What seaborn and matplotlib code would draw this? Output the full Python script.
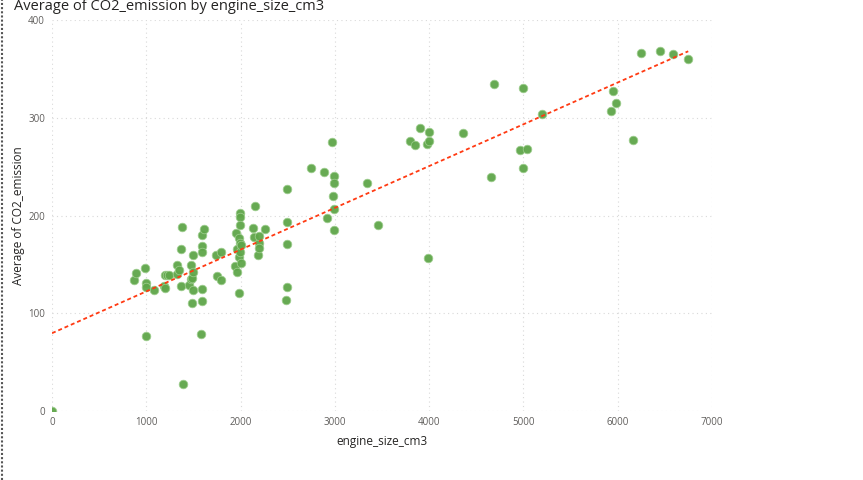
import matplotlib
matplotlib.use("Agg")
import matplotlib.pyplot as plt
import seaborn as sns
import pandas as pd
from matplotlib.lines import Line2D

# engine size (cm3) and average CO2 emission
engine_size = [0, 870, 894, 987, 997, 997, 993, 1078, 1191, 1195, 1220, 1244, 1195,
               1326, 1329, 1347, 1365, 1368, 1382, 1393, 1453, 1474, 1470, 1488, 1495,
               1495, 1495, 1485, 1577, 1587, 1594, 1587, 1591, 1612, 1591, 1739, 1753,
               1796, 1796, 1944, 1951, 1958, 1965, 1980, 1983, 1986, 1994, 1994, 1994,
               1994, 1994, 2001, 2007, 2135, 2142, 2153, 2188, 2192, 2192, 2199, 2259,
               2485, 2489, 2495, 2495, 2495, 2750, 2884, 2920, 2972, 2983, 2990, 2990,
               2994, 2994, 3337, 3454, 3796, 3849, 3899, 3977, 3987, 3994, 3994, 4362,
               4659, 4687, 4963, 4998, 4998, 5034, 5200, 5931, 5946, 5977, 6161, 6249,
               6448, 6589, 6748]
co2_emission = [0, 134, 141, 146, 131, 127, 77, 124, 128, 139, 139, 139, 126,
                149, 140, 144, 166, 128, 188, 28, 129, 149, 135, 136, 142,
                160, 124, 110, 79, 113, 125, 169, 180, 186, 163, 160, 138,
                163, 134, 148, 182, 166, 142, 177, 121, 158, 203, 198, 190,
                172, 163, 151, 170, 187, 178, 210, 160, 172, 167, 179, 186,
                114, 127, 171, 193, 227, 249, 245, 197, 275, 220, 240, 233,
                207, 185, 233, 190, 276, 272, 290, 273, 157, 285, 276, 284,
                239, 335, 267, 330, 249, 268, 304, 307, 327, 315, 277, 366,
                368, 365, 360]

x_ticks = [0, 1000, 2000, 3000, 4000, 5000, 6000, 7000]
y_ticks = [0, 100, 200, 300, 400]

df = pd.DataFrame({"engine_size_cm3": engine_size, "CO2_emission": co2_emission})

sns.set_style("white")
plt.rcParams["font.family"] = ["Open Sans", "DejaVu Sans"]

fig = plt.figure(figsize=(8.63, 4.8), dpi=100)
ax = fig.add_axes([52 / 863, 1 - 411 / 480, 660 / 863, 391 / 480])

sns.scatterplot(data=df, x="engine_size_cm3", y="CO2_emission", ax=ax,
                color="#5FA64A", s=38, linewidth=0.6, edgecolor="#9ccc8c", alpha=0.95, zorder=3)
sns.regplot(data=df, x="engine_size_cm3", y="CO2_emission", ax=ax, scatter=False, ci=None,
            line_kws=dict(color="#FF3A12", linewidth=1.3, linestyle=(0, (2.2, 1.6)), zorder=4))

ax.set_xlim(0, 7000)
ax.set_ylim(0, 400)
ax.set_xticks(x_ticks)
ax.set_yticks(y_ticks)
ax.grid(True, color="#d9d9d9", linestyle=(0, (1, 3)), linewidth=0.8)
for s in ax.spines.values():
    s.set_visible(False)
ax.tick_params(axis="both", length=0, labelsize=7, colors="#605E5C")
ax.tick_params(axis="x", pad=4)
ax.tick_params(axis="y", pad=5)
ax.set_xlabel("engine_size_cm3", fontsize=8.5, color="#252423", labelpad=5)
ax.set_ylabel("Average of CO2_emission", fontsize=8.5, color="#252423")
ax.yaxis.set_label_coords(-27 / 660, 0.5)

fig.text(14 / 863, 1 - 10 / 480, "Average of CO2_emission by engine_size_cm3",
         fontsize=10.5, color="#252423", va="baseline", ha="left")
fig.add_artist(Line2D([2 / 863, 2 / 863], [0, 1], transform=fig.transFigure,
                      color="#555555", linestyle=(0, (1, 1)), linewidth=1.5))

fig.savefig("out.png", dpi=100)
